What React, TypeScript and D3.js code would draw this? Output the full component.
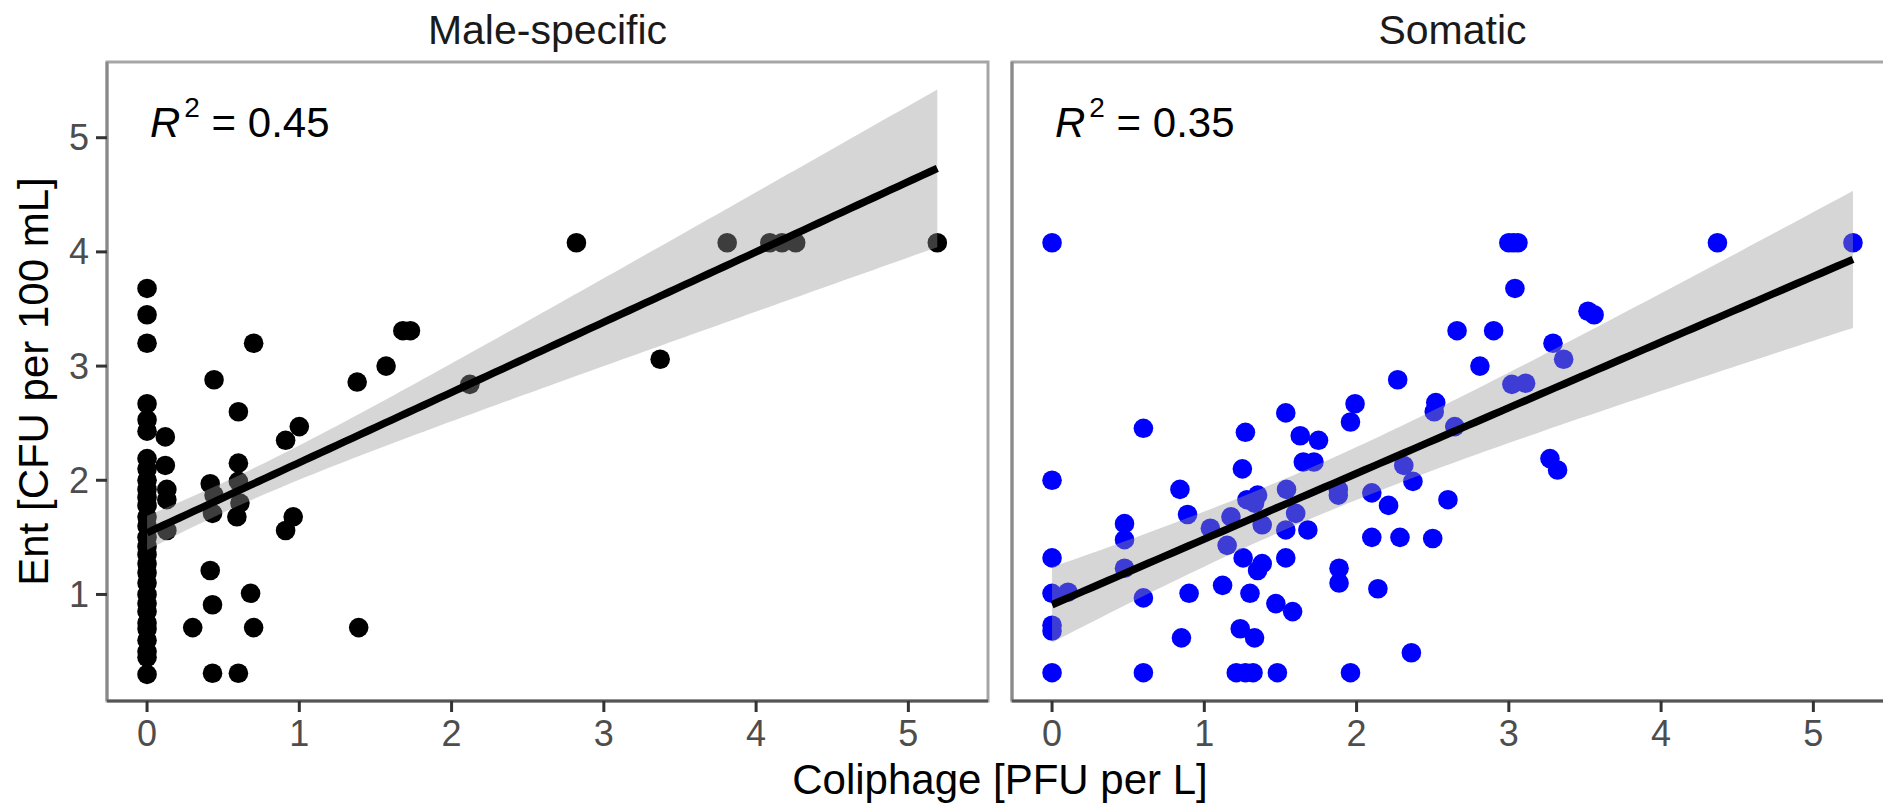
import React from "react";
import * as d3 from "d3";

// ---- data ----
const panels = ["Male-specific", "Somatic"];
const r2Labels = ["0.45", "0.35"];
const xTicks = [0, 1, 2, 3, 4, 5];
const yTicks = [1, 2, 3, 4, 5];

const maleX = [
  0, 0, 0, 0, 0, 0, 0, 0, 0, 0, 0, 0, 0, 0, 0, 0, 0, 0, 0, 0, 0, 0, 0, 0, 0, 0, 0, 0, 0,
  0.12, 0.12, 0.13, 0.13, 0.13,
  0.3, 0.415, 0.44, 0.43, 0.415, 0.43, 0.43, 0.44,
  0.6, 0.6, 0.6, 0.61, 0.59, 0.6, 0.68, 0.7, 0.7,
  0.91, 1.0, 0.96, 0.91,
  1.38, 1.39, 1.57, 1.68, 1.73, 2.12, 2.82, 3.37, 3.81, 4.09, 4.17, 4.26, 5.19,
];
const maleY = [
  3.68, 3.45, 3.2, 2.67, 2.53, 2.43, 2.19, 2.1, 2.0, 1.92, 1.85, 1.78, 1.68, 1.6, 1.5, 1.42, 1.35, 1.27, 1.19, 1.1, 1.0, 0.92, 0.85, 0.75, 0.7, 0.6, 0.5, 0.45, 0.3,
  2.38, 2.13, 1.92, 1.83, 1.56,
  0.71, 1.97, 1.87, 1.71, 1.21, 0.91, 0.31, 2.88,
  2.6, 2.15, 1.99, 1.8, 1.68, 0.31, 1.01, 0.71, 3.2,
  2.35, 2.47, 1.68, 1.56,
  2.86, 0.71, 3.0, 3.31, 3.31, 2.84, 4.08, 3.06, 4.08, 4.08, 4.08, 4.08, 4.08,
];

const somX = [
  0, 0, 0, 0, 0, 0, 0,
  0.105,
  0.476, 0.476, 0.476,
  0.6, 0.6, 0.6,
  0.84, 0.85, 0.89, 0.9,
  1.04, 1.12, 1.15, 1.175,
  1.21, 1.236, 1.25, 1.27, 1.255, 1.27, 1.28, 1.3, 1.32, 1.33, 1.33, 1.35, 1.35, 1.38, 1.38,
  1.47, 1.48, 1.535, 1.54, 1.535, 1.535, 1.58, 1.6, 1.63, 1.65, 1.72, 1.68, 1.75,
  1.88, 1.88, 1.885, 1.885, 1.96, 1.99, 1.96,
  2.1, 2.1, 2.14, 2.21, 2.27, 2.285, 2.31, 2.36, 2.37,
  2.5, 2.51, 2.52, 2.6, 2.645, 2.66, 2.81, 2.9,
  3.0, 3.03, 3.06, 3.02, 3.04, 3.11, 3.27, 3.29, 3.32, 3.36, 3.52, 3.56,
  4.37, 5.26,
];
const somY = [
  4.08, 2.0, 1.32, 1.01, 0.73, 0.68, 0.315,
  1.02,
  1.62, 1.48, 1.23,
  2.455, 0.97, 0.315,
  1.92, 0.62, 1.7, 1.01,
  1.58, 1.08, 1.43, 1.68,
  0.315, 0.7, 2.1, 2.42, 1.32, 0.315, 1.83, 1.01, 0.315, 0.62, 1.8, 1.87, 1.21, 1.27, 1.61,
  0.92, 0.315, 2.59, 1.92, 1.565, 1.32, 0.85, 1.71, 2.39, 2.16, 2.16, 1.565, 2.35,
  1.92, 1.87, 1.23, 1.1, 2.51, 2.67, 0.315,
  1.89, 1.5, 1.05, 1.78, 2.88, 1.5, 2.13, 0.49, 1.99,
  1.49, 2.6, 2.68, 1.83, 2.47, 3.31, 3.0, 3.31,
  4.08, 4.08, 4.08, 2.84, 3.68, 2.85, 2.19, 3.2, 2.09, 3.06, 3.48, 3.45,
  4.08, 4.08,
];

// fitted line + confidence band parameters
const fitIntercept = [1.54, 0.91];
const fitSlope = [0.615, 0.575];
const fitXMax = [5.19, 5.26];
const fitXCenter = [0.5, 1.6];
const bandHalfMin = [0.1315, 0.223];
const bandCurv = [0.0209, 0.02316];

const pointColors = ["#000000", "#0000ff"];

// ---- layout ----
const W = 1883;
const H = 804;
const panelTop = 62;
const panelBottom = 701;
const panelLeft = [107, 1012];
const panelWidth = 881;
const FONT = "'Liberation Sans', Arial, Helvetica, sans-serif";

export default function App() {
  const y = d3.scaleLinear().domain([0.067, 5.663]).range([panelBottom, panelTop]);

  return (
    <svg
      width={W}
      height={H}
      viewBox={`0 0 ${W} ${H}`}
      style={{ position: "absolute", left: 0, top: 0, background: "#fff" }}
      fontFamily={FONT}
    >
      <rect x={0} y={0} width={W} height={H} fill="#fff" />
      {panels.map((name, p) => {
        const x0 = panelLeft[p];
        const x = d3.scaleLinear().domain([-0.263, 5.523]).range([x0, x0 + panelWidth]);
        const xs = p === 0 ? maleX : somX;
        const ys = p === 0 ? maleY : somY;
        const fitX = d3.range(0, 101).map((i) => (i / 100) * fitXMax[p]);
        const fit = (v: number) => fitIntercept[p] + fitSlope[p] * v;
        const hw = (v: number) =>
          Math.sqrt(bandHalfMin[p] ** 2 + bandCurv[p] * (v - fitXCenter[p]) ** 2);
        const area = d3
          .area<number>()
          .x((v) => x(v))
          .y0((v) => y(fit(v) - hw(v)))
          .y1((v) => y(fit(v) + hw(v)));
        const line = d3
          .line<number>()
          .x((v) => x(v))
          .y((v) => y(fit(v)));
        const clipId = `clip${p}`;
        return (
          <g key={name}>
            <defs>
              <clipPath id={clipId}>
                <rect x={x0} y={panelTop} width={panelWidth} height={panelBottom - panelTop} />
              </clipPath>
            </defs>
            {/* strip title */}
            <text
              x={x0 + panelWidth / 2}
              y={44}
              textAnchor="middle"
              fontSize={41}
              fill="#1a1a1a"
            >
              {name}
            </text>
            <g clipPath={`url(#${clipId})`}>
              {xs.map((v, i) => (
                <circle key={i} cx={x(v)} cy={y(ys[i])} r={9.8} fill={pointColors[p]} />
              ))}
              <path d={area(fitX) || ""} fill="#999999" fillOpacity={0.4} />
              <path d={line(fitX) || ""} fill="none" stroke="#000" strokeWidth={7.5} />
            </g>
            {/* panel border */}
            <rect
              x={x0}
              y={panelTop}
              width={panelWidth}
              height={panelBottom - panelTop}
              fill="none"
              stroke="#a6a6a6"
              strokeWidth={3}
            />
            {/* axis lines */}
            <line x1={x0} x2={x0} y1={panelTop} y2={panelBottom} stroke="#8a8a8a" strokeWidth={3} />
            <line x1={x0} x2={x0 + panelWidth} y1={panelBottom} y2={panelBottom} stroke="#555" strokeWidth={3} />
            {/* x ticks */}
            {xTicks.map((t) => (
              <g key={t}>
                <line x1={x(t)} x2={x(t)} y1={panelBottom} y2={panelBottom + 11} stroke="#333" strokeWidth={3} />
                <text x={x(t)} y={746} textAnchor="middle" fontSize={36} fill="#4d4d4d">
                  {t}
                </text>
              </g>
            ))}
            {/* y ticks (left panel only) */}
            {p === 0 &&
              yTicks.map((t) => (
                <g key={t}>
                  <line x1={x0 - 11} x2={x0} y1={y(t)} y2={y(t)} stroke="#333" strokeWidth={3} />
                  <text x={x0 - 18} y={y(t) + 12.5} textAnchor="end" fontSize={36} fill="#4d4d4d">
                    {t}
                  </text>
                </g>
              ))}
            {/* R^2 annotation */}
            <text x={x0 + 43} y={137} fontSize={42} fill="#000">
              <tspan fontStyle="italic">R</tspan>
              <tspan dx={4} dy={-20} fontSize={28}>2</tspan>
              <tspan dy={20}>{" = " + r2Labels[p]}</tspan>
            </text>
          </g>
        );
      })}
      {/* axis titles */}
      <text x={1000} y={794} textAnchor="middle" fontSize={42} fill="#000">
        Coliphage [PFU per L]
      </text>
      <text
        transform={`translate(48, 381.5) rotate(-90)`}
        textAnchor="middle"
        fontSize={42}
        fill="#000"
      >
        Ent [CFU per 100 mL]
      </text>
    </svg>
  );
}
